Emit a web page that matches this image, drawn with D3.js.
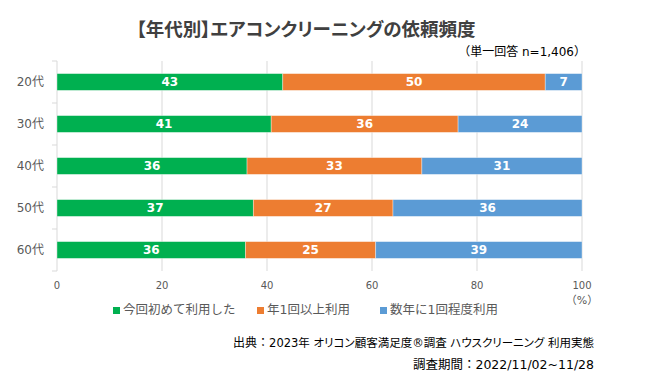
<!DOCTYPE html>
<html><head><meta charset="utf-8">
<script src="https://cdn.jsdelivr.net/npm/d3@7"></script>
<style>
html,body{margin:0;padding:0;background:#fff;}
svg{display:block;font-family:"DejaVu Sans","Noto Sans CJK JP",sans-serif;}
.palt{font-feature-settings:"palt";}
</style></head>
<body>
<svg id="chart" width="650" height="392"></svg>
<script>
const categories = ["20代","30代","40代","50代","60代"];
const seriesNames = ["今回初めて利用した","年1回以上利用","数年に1回程度利用"];
// percentages (labels show rounded values)
const firstTime = [43.0,40.8,36.2,37.4,35.9];
const yearly = [50.0,35.6,33.3,26.6,24.8];
const everyFewYears = [7.0,23.6,30.5,36.0,39.3];
const xTicks = [0,20,40,60,80,100];
const colors = ["#00B050","#ED7D31","#5B9BD5"];
const title = "【年代別】エアコンクリーニングの依頼頻度";
const subtitle = "（単一回答 n=1,406）";
const unitLabel = "（%）";
const sourceHead = "出典：";
const sourceBody = "2023年 オリコン顧客満足度®調査 ハウスクリーニング 利用実態";
const period = "調査期間：2022/11/02~11/28";

const svg = d3.select("#chart");
const m = {left:57, right:68, top:61, bottom:121};
const W = 650, H = 392;
const x = d3.scaleLinear().domain([0,100]).range([m.left, W - m.right]);
const y = d3.scaleBand().domain(categories).range([m.top, H - m.bottom]).paddingInner(0.6).paddingOuter(0.3);

const seriesVals = [firstTime, yearly, everyFewYears];
const rows = categories.map((c,i)=>{const o={cat:c}; seriesNames.forEach((s,j)=>o[s]=seriesVals[j][i]); return o;});
const stack = d3.stack().keys(seriesNames)(rows);

// gridlines
svg.append("g").selectAll("line").data(xTicks.slice(1)).join("line")
  .attr("x1",d=>x(d)).attr("x2",d=>x(d)).attr("y1",m.top).attr("y2",H-m.bottom)
  .attr("stroke","#d9d9d9").attr("stroke-width",1);

// y axis
const yAxis = svg.append("g").attr("transform",`translate(${m.left},0)`);
yAxis.append("line").attr("x1",0).attr("x2",0).attr("y1",m.top).attr("y2",H-m.bottom).attr("stroke","#d9d9d9");
const tickYs = d3.range(categories.length+1).map(i=>m.top + i*((H-m.bottom-m.top)/categories.length));
yAxis.selectAll("line.t").data(tickYs).join("line").attr("class","t")
  .attr("x1",-5).attr("x2",0).attr("y1",d=>d).attr("y2",d=>d).attr("stroke","#d9d9d9");
yAxis.selectAll("text").data(categories).join("text")
  .attr("x",-13).attr("y",d=>y(d)+y.bandwidth()/2).attr("dy","0.35em")
  .attr("text-anchor","end").attr("fill","#595959").attr("font-size",12).text(d=>d);

// x tick labels
svg.append("g").selectAll("text").data(xTicks).join("text")
  .attr("x",d=>x(d)).attr("y",H-m.bottom+14).attr("dy","0.35em").attr("text-anchor","middle")
  .attr("fill","#595959").attr("font-size",10).text(d=>d);
svg.append("text").attr("x",x(100)).attr("y",H-m.bottom+29).attr("dy","0.35em").attr("text-anchor","middle")
  .attr("fill","#595959").attr("font-size",11).text(unitLabel);

// bars
const g = svg.append("g");
stack.forEach((s,j)=>{
  const gs = g.append("g");
  gs.selectAll("rect").data(s).join("rect")
    .attr("x",d=>x(d[0])).attr("width",d=>x(d[1])-x(d[0]))
    .attr("y",d=>y(d.data.cat)).attr("height",y.bandwidth())
    .attr("fill",colors[j]).attr("stroke","#ffffff").attr("stroke-opacity",0.45).attr("stroke-width",0.8);
  gs.selectAll("text").data(s).join("text")
    .attr("x",d=>(x(d[0])+x(d[1]))/2).attr("y",d=>y(d.data.cat)+y.bandwidth()/2).attr("dy","0.36em")
    .attr("text-anchor","middle").attr("fill","#fff").attr("font-weight","bold").attr("font-size",12)
    .text(d=>Math.round(d[1]-d[0]));
});

// title
svg.append("text").attr("class","palt").attr("x",306).attr("y",30).attr("dy","0.35em").attr("text-anchor","middle")
  .attr("fill","#404040").attr("font-weight","bold").attr("font-size",18.5).text(title);
svg.append("text").attr("x",586).attr("y",52).attr("dy","0.35em").attr("text-anchor","end")
  .attr("fill","#000").attr("font-size",12).text(subtitle);

// legend
const legX = [113, 257, 380];
const leg = svg.append("g");
seriesNames.forEach((s,j)=>{
  leg.append("rect").attr("x",legX[j]).attr("y",307).attr("width",7).attr("height",7).attr("fill",colors[j]);
  leg.append("text").attr("x",legX[j]+10).attr("y",310).attr("dy","0.35em").attr("fill","#595959")
    .attr("font-size",12.5).text(s);
});

// footer
const src = svg.append("text").attr("x",594).attr("y",343).attr("dy","0.35em").attr("text-anchor","end")
  .attr("fill","#000").attr("font-size",12);
src.append("tspan").text(sourceHead);
src.append("tspan").attr("class","palt").attr("font-size",11.5).text(sourceBody);
svg.append("text").attr("x",594).attr("y",365).attr("dy","0.35em").attr("text-anchor","end")
  .attr("fill","#000").attr("font-size",12.5).text(period);
</script>
</body></html>
